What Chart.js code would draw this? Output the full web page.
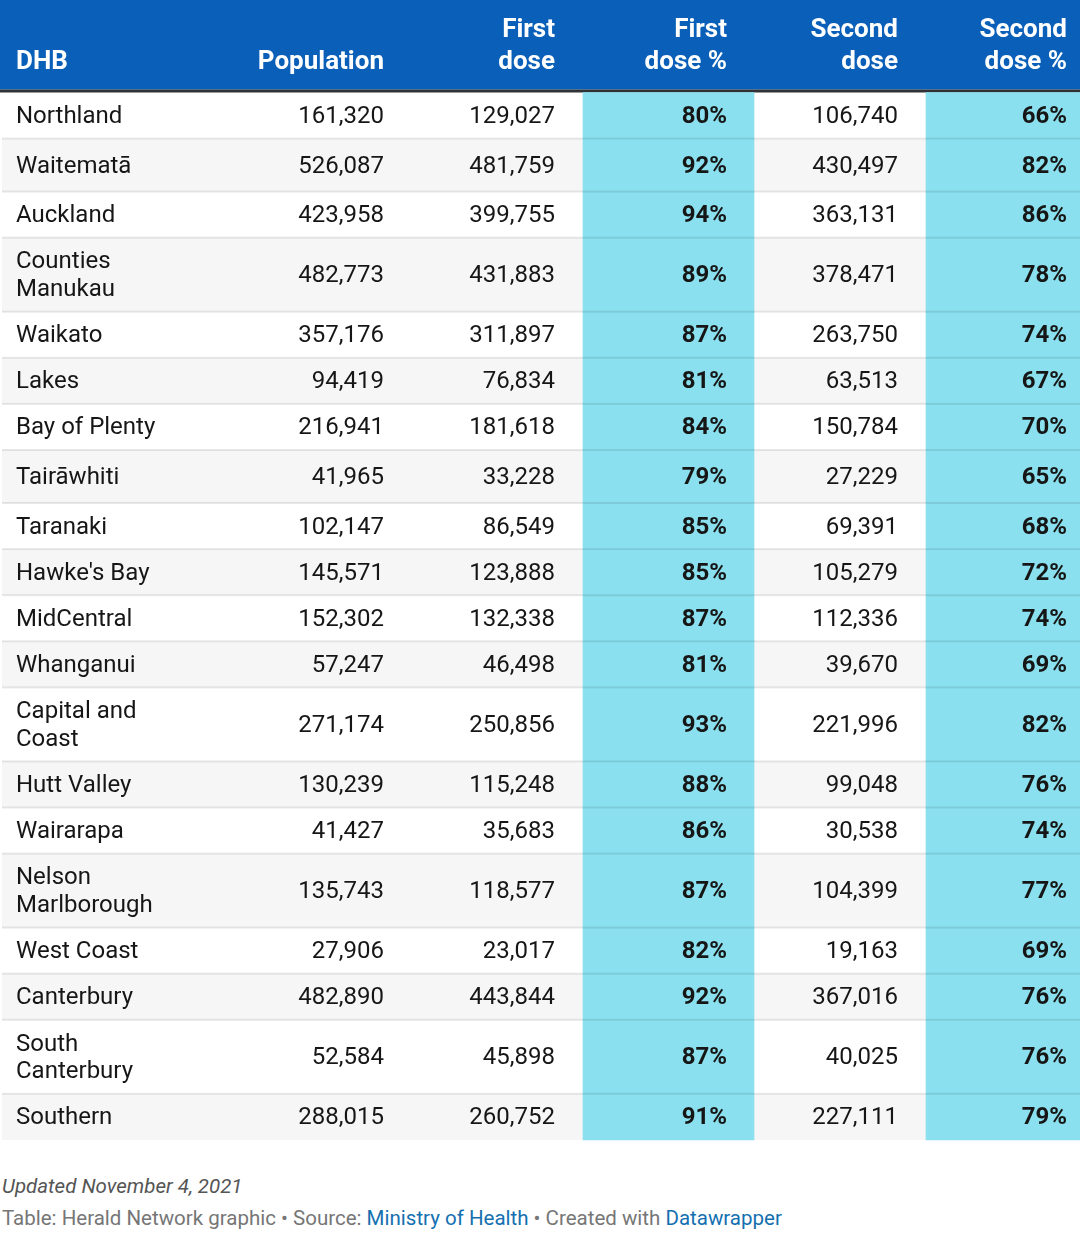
<!DOCTYPE html>
<html><head><meta charset="utf-8">
<script src="https://cdn.jsdelivr.net/npm/chart.js@4.4.1/dist/chart.umd.min.js"></script>
<style>
html,body{margin:0;padding:0;background:#fff;}
#wrap{position:relative;width:1080px;height:1238px;overflow:hidden;}
canvas{display:block;}
#foot{position:absolute;left:2px;top:1170px;font-family:Roboto,sans-serif;color:#767676;font-size:20.5px;white-space:nowrap;}
#foot .upd{font-style:italic;color:#555;line-height:32px;height:32px;}
#foot .src{line-height:33px;}
#foot a{color:#1470b0;text-decoration:none;}
</style></head>
<body>
<div id="wrap">
<canvas id="c" width="1080" height="1150"></canvas>
<div id="foot">
<div class="upd">Updated November 4, 2021</div>
<div class="src">Table: Herald Network graphic • Source: <a>Ministry of Health</a> • Created with <a>Datawrapper</a></div>
</div>
</div>
<script>
// ---------- data ----------
const headers = [["DHB"], ["Population"], ["First", "dose"], ["First", "dose %"], ["Second", "dose"], ["Second", "dose %"]];
const dhbs = ["Northland", "Waitematā", "Auckland", ["Counties", "Manukau"], "Waikato", "Lakes", "Bay of Plenty", "Tairāwhiti", "Taranaki", "Hawke's Bay", "MidCentral", "Whanganui", ["Capital and", "Coast"], "Hutt Valley", "Wairarapa", ["Nelson", "Marlborough"], "West Coast", "Canterbury", ["South", "Canterbury"], "Southern"];
const population = [161320, 526087, 423958, 482773, 357176, 94419, 216941, 41965, 102147, 145571, 152302, 57247, 271174, 130239, 41427, 135743, 27906, 482890, 52584, 288015];
const firstDose = [129027, 481759, 399755, 431883, 311897, 76834, 181618, 33228, 86549, 123888, 132338, 46498, 250856, 115248, 35683, 118577, 23017, 443844, 45898, 260752];
const firstPct = [80, 92, 94, 89, 87, 81, 84, 79, 85, 85, 87, 81, 93, 88, 86, 87, 82, 92, 87, 91];
const secondDose = [106740, 430497, 363131, 378471, 263750, 63513, 150784, 27229, 69391, 105279, 112336, 39670, 221996, 99048, 30538, 104399, 19163, 367016, 40025, 227111];
const secondPct = [66, 82, 86, 78, 74, 67, 70, 65, 68, 72, 74, 69, 82, 76, 74, 77, 69, 76, 76, 79];

// ---------- layout ----------
const W = 1080, H = 1150;
const HEADER_H = 89.5, RULE_H = 3;
const colEdges = [0, 200, 397, 583, 754, 926, 1080]; // column boundaries
const textPad = [16, 13, 28, 27, 28, 13];
const align = ['left', 'right', 'right', 'right', 'right', 'right'];
const BLUE = '#0a5fb8', CYAN = '#8ae0ee', STRIPE = '#f6f6f6', INK = '#161616';

function rowHeight(lbl) {
  if (Array.isArray(lbl)) return 74;
  return /[āēīōū]/.test(lbl) ? 53 : 46.1;
}
const rowTops = [];
let yAcc = HEADER_H + RULE_H;
dhbs.forEach(l => { rowTops.push(yAcc); yAcc += rowHeight(l); });
const tableBottom = yAcc;

const fmt = n => n.toLocaleString('en-US');
const pct = n => n + '%';
const columns = [
  dhbs,
  population.map(fmt),
  firstDose.map(fmt),
  firstPct.map(pct),
  secondDose.map(fmt),
  secondPct.map(pct)
];
const boldCol = [false, false, false, true, false, true];

function anchorX(c) {
  return align[c] === 'left' ? colEdges[c] + textPad[c] : colEdges[c + 1] - textPad[c];
}

const tablePlugin = {
  id: 'table',
  beforeDatasetsDraw(chart) {
    const ctx = chart.ctx, x = chart.scales.x, y = chart.scales.y;
    const x0 = x.getPixelForValue(0), x1 = x.getPixelForValue(W), xs = x.getPixelForValue(2);
    ctx.save();
    ctx.fillStyle = BLUE;
    ctx.fillRect(x0, y.getPixelForValue(0), x1 - x0, y.getPixelForValue(HEADER_H) - y.getPixelForValue(0));
    ctx.fillStyle = '#2f3337';
    ctx.fillRect(x0, y.getPixelForValue(HEADER_H), x1 - x0, y.getPixelForValue(HEADER_H + RULE_H) - y.getPixelForValue(HEADER_H));
    dhbs.forEach((l, i) => {
      if (i % 2 === 1) {
        const t = y.getPixelForValue(rowTops[i]);
        const b = y.getPixelForValue(rowTops[i] + rowHeight(l));
        ctx.fillStyle = STRIPE;
        ctx.fillRect(xs, t, x1 - xs, b - t);
      }
    });
    ctx.restore();
  },
  afterDatasetsDraw(chart) {
    const ctx = chart.ctx, x = chart.scales.x, y = chart.scales.y;
    const x1 = x.getPixelForValue(W), xs = x.getPixelForValue(2);
    ctx.save();
    ctx.fillStyle = 'rgba(0,0,0,0.09)';
    for (let i = 1; i < dhbs.length; i++) {
      const py = y.getPixelForValue(rowTops[i]);
      ctx.fillRect(xs, py - 1, x1 - xs, 2);
    }
    ctx.textBaseline = 'middle';
    ctx.fillStyle = '#ffffff';
    ctx.font = 'bold 26px Roboto';
    headers.forEach((lines, c) => {
      ctx.textAlign = align[c];
      const px = x.getPixelForValue(anchorX(c));
      const start = lines.length === 1 ? 1 : 0;
      lines.forEach((t, k) => {
        ctx.fillText(t, px, y.getPixelForValue(30 + 32 * (start + k)));
      });
    });
    ctx.fillStyle = INK;
    columns.forEach((vals, c) => {
      ctx.textAlign = align[c];
      ctx.font = (boldCol[c] ? 'bold ' : '') + '24px Roboto';
      const px = x.getPixelForValue(anchorX(c));
      vals.forEach((v, i) => {
        const mid = rowTops[i] + rowHeight(dhbs[i]) / 2;
        const lines = Array.isArray(v) ? v : [v];
        lines.forEach((t, k) => {
          const off = (k - (lines.length - 1) / 2) * 27.5;
          ctx.fillText(t, px, y.getPixelForValue(mid + off + 1.5));
        });
      });
    });
    ctx.restore();
  }
};

function colBar(label, c) {
  const w = colEdges[c + 1] - colEdges[c];
  return {
    label: label,
    grouped: false,
    data: [{ x: (colEdges[c] + colEdges[c + 1]) / 2, y: [HEADER_H + RULE_H, tableBottom] }],
    backgroundColor: CYAN,
    borderWidth: 0,
    borderSkipped: false,
    barThickness: w,
    maxBarThickness: w
  };
}

function draw() {
  new Chart(document.getElementById('c'), {
    type: 'bar',
    data: {
      datasets: [
        colBar('First dose %', 3),
        colBar('Second dose %', 5)
      ]
    },
    options: {
      responsive: false,
      animation: false,
      events: [],
      layout: { padding: 0 },
      scales: {
        x: { type: 'linear', min: 0, max: W, offset: false, display: false },
        y: { type: 'linear', min: 0, max: H, reverse: true, stacked: false, display: false }
      },
      plugins: { legend: { display: false }, tooltip: { enabled: false }, title: { display: false } }
    },
    plugins: [tablePlugin]
  });
}
Promise.all([
  document.fonts.load('24px Roboto'),
  document.fonts.load('bold 24px Roboto'),
  document.fonts.load('italic 20px Roboto')
]).then(draw, draw);
</script>
</body></html>
